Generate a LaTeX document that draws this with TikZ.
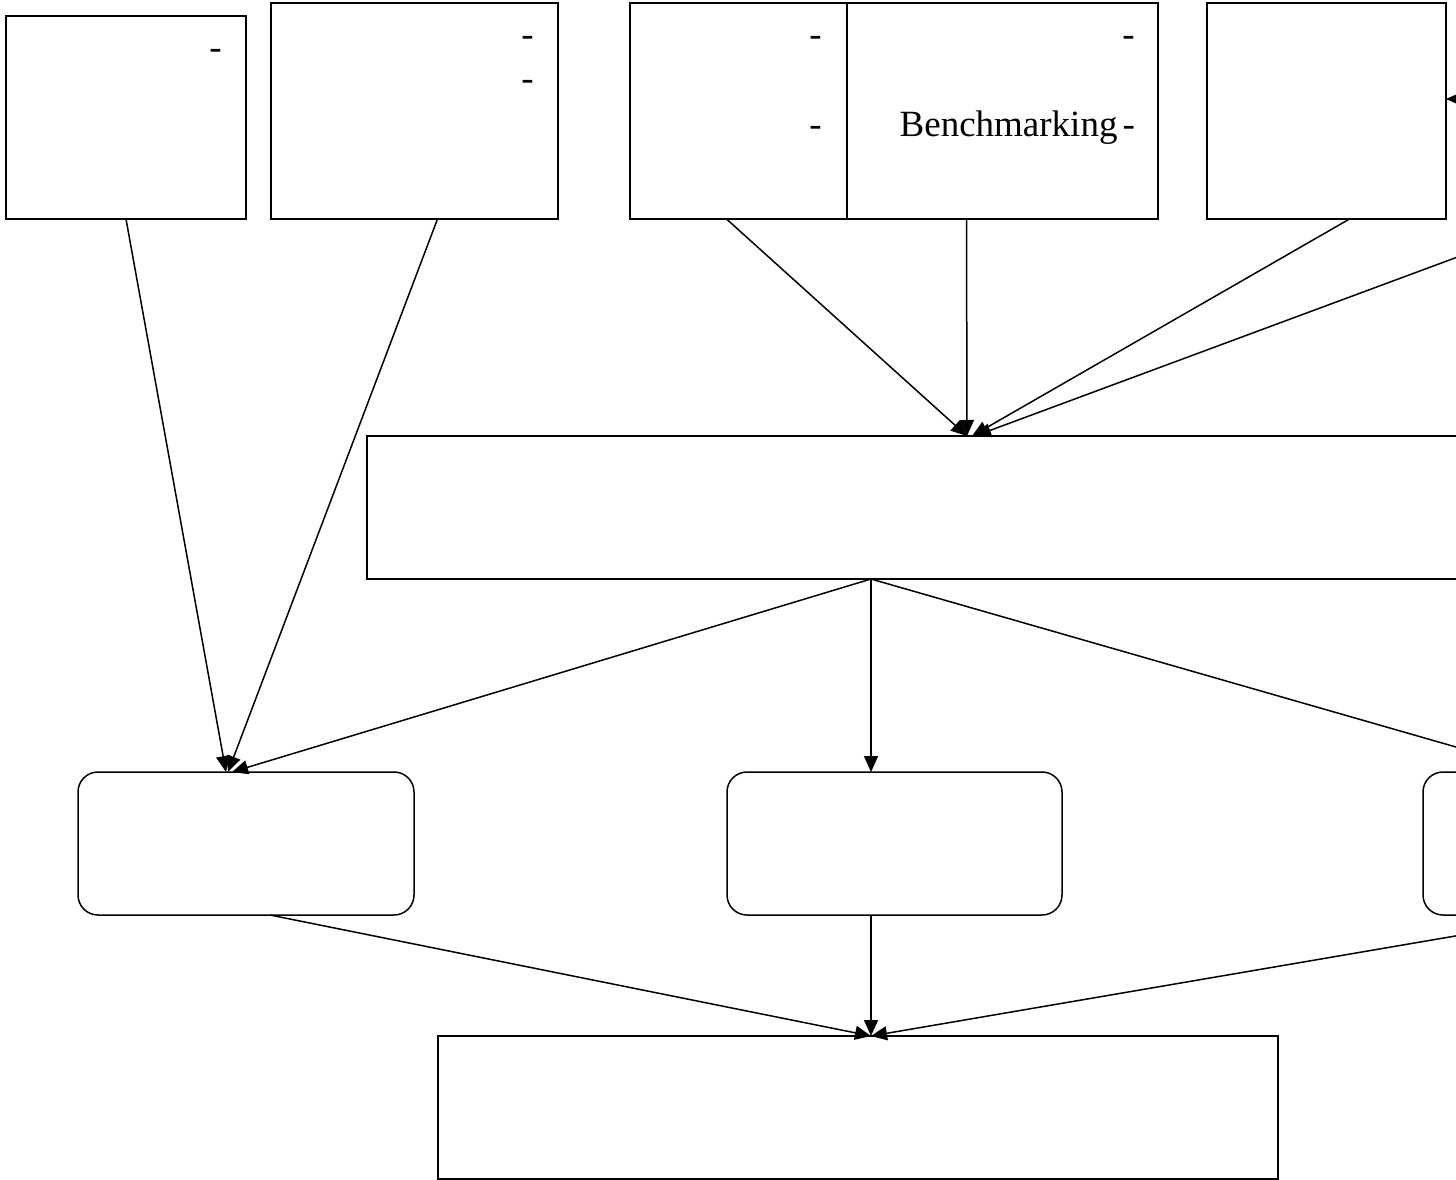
\documentclass[tikz,border=0pt]{standalone}
\usepackage{fontspec}
\setmainfont{Liberation Serif}
\usetikzlibrary{arrows.meta}
\begin{document}
\begin{tikzpicture}[x=1pt,y=-1pt,
  box/.style={draw,line width=1.5pt,anchor=north west,inner sep=0pt,outer sep=0pt},
  rbox/.style={box,rounded corners=20pt},
  lbl/.style={anchor=base east,inner sep=0pt,font=\fontsize{37}{44}\selectfont},
  arr/.style={line width=1.5pt,-{Triangle[length=16pt,width=14pt]}}]
\clip (0,0) rectangle (1456,1180);
\useasboundingbox (0,0) rectangle (1456,1180);
% top row
\node[box,minimum width=240pt,minimum height=203pt] (A) at (6,16) {};
\node[box,minimum width=287pt,minimum height=216pt] (B) at (271,3) {};
\node[box,minimum width=217pt,minimum height=216pt] (C) at (630,3) {};
\node[box,minimum width=311pt,minimum height=216pt] (D) at (847,3) {};
\node[box,minimum width=239pt,minimum height=216pt] (E) at (1207,3) {};
\coordinate (Xout) at (1560,219);
\coordinate (Xin) at (1530,99);
% labels
\node[lbl] (tA1) at (222,60) {-};
\node[lbl] (tB1) at (534,47) {-};
\node[lbl] (tB2) at (534,91) {-};
\node[lbl] (tC1) at (822,47) {-};
\node[lbl] (tC2) at (822,136) {-};
\node[lbl] (tD1) at (1135,47) {-};
\node[lbl] (tD2) at (1135,136) {Benchmarking\hspace{5pt}-};
% middle
\node[box,minimum width=1200pt,minimum height=143pt] (F) at (367,436) {};
% rounded row
\node[rbox,minimum width=336pt,minimum height=143pt] (G) at (78,772) {};
\node[rbox,minimum width=335pt,minimum height=143pt] (H) at (727,772) {};
\node[rbox,minimum width=336pt,minimum height=143pt] (I) at (1423,772) {};
% bottom
\node[box,minimum width=840pt,minimum height=143pt] (J) at (438,1036) {};
% connectors
\draw[arr] (A.south) -- ([xshift=-20pt]G.north);
\draw[arr] ([xshift=23pt]B.south) -- ([xshift=-18pt]G.north);
\draw[arr] ([xshift=-12pt]C.south) -- (F.north);
\draw[arr] ([xshift=-36pt]D.south) -- (F.north);
\draw[arr] ([xshift=23pt]E.south) -- ([xshift=5pt]F.north);
\draw[arr] (Xout) -- ([xshift=8pt]F.north);
\draw[arr] (Xin) -- (E.east |- Xin);
\draw[arr] ([xshift=-96pt]F.south) -- ([xshift=-14pt]G.north);
\draw[arr] ([xshift=-96pt]F.south) -- ([xshift=-23.5pt]H.north);
\draw[arr] ([xshift=-96pt]F.south) -- ([xshift=-48pt]I.north);
\draw[arr] ([xshift=24pt]G.south) -- ([xshift=13pt]J.north);
\draw[arr] ([xshift=-23.5pt]H.south) -- ([xshift=13pt]J.north);
\draw[arr] ([xshift=-13pt]I.south) -- ([xshift=13pt]J.north);
\end{tikzpicture}
\end{document}
